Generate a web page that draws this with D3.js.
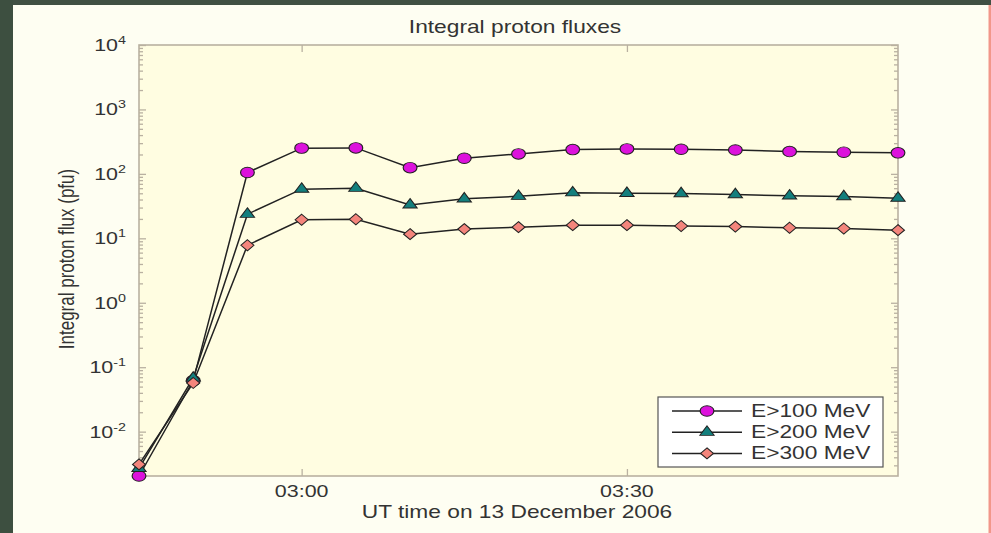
<!DOCTYPE html>
<html>
<head>
<meta charset="utf-8">
<script src="https://cdn.jsdelivr.net/npm/d3@7"></script>
<style>
  body { margin: 0; background: #fefef2; }
  svg { display: block; font-family: "Liberation Sans", Arial, sans-serif; }
</style>
</head>
<body>
<svg id="chart"></svg>
<script>
// time stamps (UT, 13 Dec 2006)
var times = ["02:45", "02:50", "02:55", "03:00", "03:05", "03:10", "03:15", "03:20",
             "03:25", "03:30", "03:35", "03:40", "03:45", "03:50", "03:55"];

// integral proton flux (pfu)
var flux100 = [0.00205, 0.062, 105, 251, 253, 125, 175, 204, 238, 244, 241, 235, 222, 217, 212];
var flux200 = [0.0027, 0.068, 23.7, 58, 60, 33, 41, 45, 51, 50, 49.5, 47.7, 45.6, 44.5, 42];
var flux300 = [0.0031, 0.057, 7.8, 19.4, 19.8, 11.6, 13.9, 14.9, 16.0, 16.0, 15.5, 15.2, 14.6, 14.2, 13.4];

var seriesNames = ["E>100 MeV", "E>200 MeV", "E>300 MeV"];
var yTickExps = [-2, -1, 0, 1, 2, 3, 4];
var xTickLabels = ["03:00", "03:30"];

var width = 991, height = 533;
var margin = { top: 45, right: 93, bottom: 57, left: 139 };
var sx = 1.3; // the original picture is stretched horizontally

var svg = d3.select("#chart").attr("width", width).attr("height", height);

// outer frame
svg.append("rect").attr("x", 0).attr("y", 0).attr("width", width).attr("height", 5).attr("fill", "#405043");
svg.append("rect").attr("x", 0).attr("y", 0).attr("width", 13).attr("height", height).attr("fill", "#3d4f40");
svg.append("rect").attr("x", 988.5).attr("y", 5).attr("width", 2.5).attr("height", height).attr("fill", "#f2978a");

var parseT = (t) => new Date("2006-12-13T" + t + ":00Z");

var x = d3.scaleUtc()
  .domain(d3.extent(times, parseT))
  .range([margin.left, width - margin.right]);

var allVals = flux100.concat(flux200, flux300);
var y = d3.scaleLog()
  .domain([d3.min(allVals), 1e4])
  .range([height - margin.bottom, margin.top]);

var x0 = margin.left, x1 = width - margin.right;
var y0 = height - margin.bottom, y1 = margin.top;

// plot background
svg.append("rect")
  .attr("x", x0).attr("y", y1)
  .attr("width", x1 - x0).attr("height", y0 - y1)
  .attr("fill", "#fffde1");

// tick values
var majorY = yTickExps.map((e) => Math.pow(10, e));
var minorY = [];
for (var e = -3; e < 4; e++) {
  for (var k = 2; k <= 9; k++) {
    var v = k * Math.pow(10, e);
    if (v >= y.domain()[0] && v <= 1e4) minorY.push(v);
  }
}
var xTicks = xTickLabels.map(parseT);

var axisColor = "#b9b1a1";

function styleAxis(g) {
  g.select(".domain").remove();
  g.selectAll("line").attr("stroke", axisColor).attr("stroke-width", 1.3);
  g.selectAll("text").remove();
}

// inward ticks on all four sides
svg.append("g").attr("transform", `translate(${x0},0)`)
  .call(d3.axisLeft(y).tickValues(majorY).tickSize(-7)).call(styleAxis);
svg.append("g").attr("transform", `translate(${x0},0)`)
  .call(d3.axisLeft(y).tickValues(minorY).tickSize(-4)).call(styleAxis);
svg.append("g").attr("transform", `translate(${x1},0)`)
  .call(d3.axisRight(y).tickValues(majorY).tickSize(-7)).call(styleAxis);
svg.append("g").attr("transform", `translate(${x1},0)`)
  .call(d3.axisRight(y).tickValues(minorY).tickSize(-4)).call(styleAxis);
svg.append("g").attr("transform", `translate(0,${y0})`)
  .call(d3.axisBottom(x).tickValues(xTicks).tickSize(-7)).call(styleAxis);
svg.append("g").attr("transform", `translate(0,${y1})`)
  .call(d3.axisTop(x).tickValues(xTicks).tickSize(-7)).call(styleAxis);

// box
svg.append("rect")
  .attr("x", x0).attr("y", y1)
  .attr("width", x1 - x0).attr("height", y0 - y1)
  .attr("fill", "none")
  .attr("stroke", axisColor)
  .attr("stroke-width", 1.6);

// y tick labels 10^n
yTickExps.forEach(function (e) {
  var t = svg.append("text")
    .attr("transform", `translate(126,${y(Math.pow(10, e)) + 6}) scale(${sx},1)`)
    .attr("text-anchor", "end")
    .attr("fill", "#333")
    .style("font-size", "16.5px");
  t.append("tspan").text("10");
  t.append("tspan").attr("dy", -7).style("font-size", "11px").text(e);
});

// x tick labels
xTickLabels.forEach(function (lab) {
  svg.append("text")
    .attr("transform", `translate(${x(parseT(lab))},497) scale(${sx},1)`)
    .attr("text-anchor", "middle")
    .attr("fill", "#333")
    .style("font-size", "16.5px")
    .text(lab);
});

// titles
svg.append("text")
  .attr("transform", `translate(515,33) scale(${sx},1)`)
  .attr("text-anchor", "middle")
  .attr("fill", "#333")
  .style("font-size", "17.5px")
  .text("Integral proton fluxes");

svg.append("text")
  .attr("transform", `translate(517,518) scale(${sx},1)`)
  .attr("text-anchor", "middle")
  .attr("fill", "#333")
  .style("font-size", "17.5px")
  .text("UT time on 13 December 2006");

svg.append("text")
  .attr("transform", `translate(74,259) scale(${sx},1) rotate(-90)`)
  .attr("text-anchor", "middle")
  .attr("fill", "#333")
  .style("font-size", "17px")
  .text("Integral proton flux (pfu)");

// markers
var diamond = {
  draw: function (ctx, size) {
    var h = Math.sqrt(size) * 0.55, w = Math.sqrt(size) * 0.5;
    ctx.moveTo(0, -h); ctx.lineTo(w, 0); ctx.lineTo(0, h); ctx.lineTo(-w, 0); ctx.closePath();
  }
};

var series = [
  { name: seriesNames[0], values: flux100, color: "#dc12dc", symbol: d3.symbol(d3.symbolCircle, 88) },
  { name: seriesNames[1], values: flux200, color: "#137f7d", symbol: d3.symbol(d3.symbolTriangle, 52) },
  { name: seriesNames[2], values: flux300, color: "#f4857c", symbol: d3.symbol(diamond, 100) }
];

var line = d3.line()
  .x((d, i) => x(parseT(times[i])))
  .y((d) => y(d));

series.forEach(function (s) {
  svg.append("path")
    .datum(s.values)
    .attr("fill", "none")
    .attr("stroke", "#222")
    .attr("stroke-width", 1.5)
    .attr("d", line);
});

series.forEach(function (s) {
  svg.append("g")
    .selectAll("path")
    .data(s.values)
    .join("path")
    .attr("transform", (d, i) => `translate(${x(parseT(times[i]))},${y(d)}) scale(${sx},1)`)
    .attr("d", s.symbol())
    .attr("fill", s.color)
    .attr("stroke", "#222")
    .attr("stroke-width", 0.9);
});

// legend
var lg = svg.append("g");
lg.append("rect")
  .attr("x", 658).attr("y", 397)
  .attr("width", 225).attr("height", 70)
  .attr("fill", "#ffffff")
  .attr("stroke", "#555")
  .attr("stroke-width", 1.2);

series.forEach(function (s, i) {
  var ly = 411 + i * 21.2;
  lg.append("line")
    .attr("x1", 672).attr("x2", 742)
    .attr("y1", ly).attr("y2", ly)
    .attr("stroke", "#222").attr("stroke-width", 1.5);
  lg.append("path")
    .attr("transform", `translate(707,${ly}) scale(${sx},1)`)
    .attr("d", s.symbol())
    .attr("fill", s.color)
    .attr("stroke", "#222")
    .attr("stroke-width", 0.9);
  lg.append("text")
    .attr("transform", `translate(751,${ly + 6}) scale(${sx},1)`)
    .attr("fill", "#333")
    .style("font-size", "17.5px")
    .text(s.name);
});
</script>
</body>
</html>
